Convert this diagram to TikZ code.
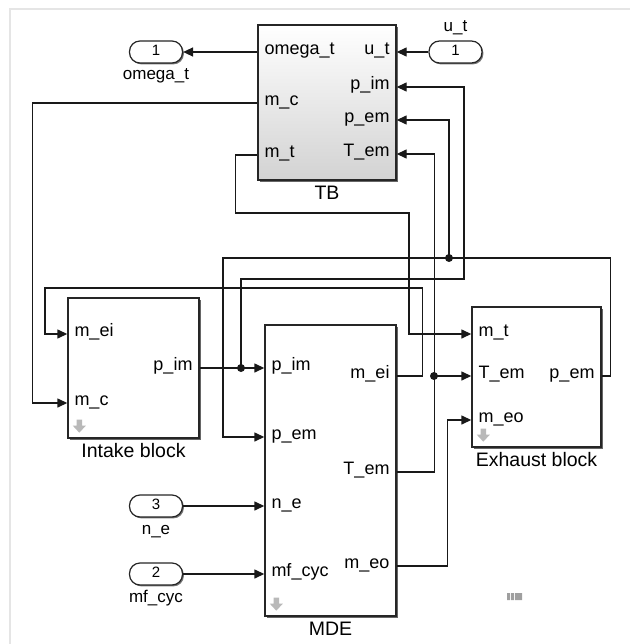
\documentclass[tikz,border=0pt]{standalone}
\usepackage{fontspec}
\setmainfont{Liberation Sans}
\usetikzlibrary{positioning,arrows.meta,shadows}

\begin{document}
\begin{tikzpicture}[x=1pt, y=-1pt, node distance=11pt,
    blk/.style={rectangle, draw=black!85, line width=1.4pt, fill=white, inner sep=0pt,
        drop shadow={shadow xshift=2pt, shadow yshift=-2pt, opacity=0.6, fill=black}},
    term/.style={rectangle, rounded corners=10.5pt, draw=black!85, line width=1.2pt, fill=white,
        minimum width=53pt, minimum height=22pt, inner sep=0pt,
        font=\fontsize{15}{17}\selectfont, text height=0.72em, text depth=0pt,
        drop shadow={shadow xshift=1.4pt, shadow yshift=-1.4pt, opacity=0.55, fill=black}},
    lport/.style={anchor=west, inner xsep=7pt, inner ysep=0pt,
        font=\fontsize{18}{20}\selectfont, text height=0.77em, text depth=0.25em},
    rport/.style={lport, anchor=east},
    bname/.style={inner sep=0pt, font=\fontsize{19.5}{22}\selectfont, text height=0.72em, text depth=0pt},
    tname/.style={inner sep=0pt, font=\fontsize{17}{19}\selectfont, text height=0.52em, text depth=0pt},
    sig/.style={line width=1.4pt, draw=black!90, -{Triangle[length=10pt, width=9pt]}},
    jdot/.style={circle, fill=black!90, inner sep=0pt, minimum size=8pt},
    dnarrow/.pic={\fill[gray!55] (-2.8,-7) -- (2.8,-7) -- (2.8,-1) -- (6.5,-1) -- (0,6) -- (-6.5,-1) -- (-2.8,-1) -- cycle;}]
    \useasboundingbox (0,0) rectangle (630,644);
    \draw[gray!20, line width=2pt] (9.5,644) -- (9.5,9.5) -- (630,9.5);

    % subsystem blocks
    \node[blk, minimum width=138pt, minimum height=155pt, top color=white, bottom color=gray!35] (TB) at (327,102.5) {};
    \node[blk, minimum width=131pt, minimum height=140pt] (IN) at (133.5,368) {};
    \node[blk, minimum width=131pt, minimum height=291pt] (MD) at (330.5,470.5) {};
    \node[blk, minimum width=129pt, minimum height=140pt] (EX) at (536.5,377) {};

    \node[bname, below=of TB] (tbname) {TB};
    \node[bname, below=of IN] (inname) {Intake block};
    \node[bname, below=of MD] (mdname) {MDE};
    \node[bname, below=of EX] (exname) {Exhaust block};

    \pic at ([shift={(12,-12)}]IN.south west) {dnarrow};
    \pic at ([shift={(12,-12)}]MD.south west) {dnarrow};
    \pic at ([shift={(12,-12)}]EX.south west) {dnarrow};

    % ports
    \node[lport] (tb-omega) at (TB.west |- 0,52) {omega\_t};
    \node[lport] (tb-mc) at (TB.west |- 0,103) {m\_c};
    \node[lport] (tb-mt) at (TB.west |- 0,155) {m\_t};
    \node[rport] (tb-ut) at (TB.east |- 0,52) {u\_t};
    \node[rport] (tb-pim) at (TB.east |- 0,87) {p\_im};
    \node[rport] (tb-pem) at (TB.east |- 0,120) {p\_em};
    \node[rport] (tb-tem) at (TB.east |- 0,154) {T\_em};

    \node[lport] (in-mei) at (IN.west |- 0,334) {m\_ei};
    \node[lport] (in-mc) at (IN.west |- 0,403) {m\_c};
    \node[rport] (in-pim) at (IN.east |- 0,368) {p\_im};

    \node[lport] (md-pim) at (MD.west |- 0,368) {p\_im};
    \node[lport] (md-pem) at (MD.west |- 0,437) {p\_em};
    \node[lport] (md-ne) at (MD.west |- 0,506) {n\_e};
    \node[lport] (md-mf) at (MD.west |- 0,574) {mf\_cyc};
    \node[rport] (md-mei) at (MD.east |- 0,376) {m\_ei};
    \node[rport] (md-tem) at (MD.east |- 0,472) {T\_em};
    \node[rport] (md-meo) at (MD.east |- 0,566) {m\_eo};

    \node[lport] (ex-mt) at (EX.west |- 0,334) {m\_t};
    \node[lport] (ex-tem) at (EX.west |- 0,376) {T\_em};
    \node[lport] (ex-meo) at (EX.west |- 0,420) {m\_eo};
    \node[rport] (ex-pem) at (EX.east |- 0,376) {p\_em};

    % in/out terminals
    \node[term] (omg) at (156,52) {1};
    \node[tname, below=11pt of omg] (omgname) {omega\_t};
    \node[term] (ut) at (455.5,52) {1};
    \node[tname, above=9pt of ut] (utname) {u\_t};
    \node[term] (ne) at (156,506) {3};
    \node[tname, below=11pt of ne] (nename) {n\_e};
    \node[term] (mf) at (156,574) {2};
    \node[tname, below=11pt of mf] (mfname) {mf\_cyc};

    % branch points
    \node[jdot] (j1) at (241,368) {};
    \node[jdot] (j2) at (449,258) {};
    \node[jdot] (j3) at (434,376) {};

    % signals
    \draw[sig] (tb-omega.west) -- (omg.east);
    \draw[sig] (ut.west) -- (tb-ut.east);
    \draw[sig] (tb-mc.west) -- ++(-225,0) |- (in-mc.west);
    \draw[sig] (tb-mt.west) -- ++(-22,0) |- (409,213) |- (ex-mt.west);
    \draw[sig] (in-pim.east) -- (md-pim.west);
    \draw[sig] (j1.center) |- (464,279) |- (tb-pim.east);
    \draw[sig] (ex-pem.east) -- ++(9,0) |- (223,258) |- (md-pem.west);
    \draw[sig] (j2.center) |- (tb-pem.east);
    \draw[sig] (md-tem.east) -- ++(38,0) |- (tb-tem.east);
    \draw[sig] (j3.center) -- (ex-tem.west);
    \draw[sig] (md-mei.east) -- ++(26,0) |- (45,288) |- (in-mei.west);
    \draw[sig] (md-meo.east) -- ++(51,0) |- (ex-meo.west);
    \draw[sig] (ne.east) -- (md-ne.west);
    \draw[sig] (mf.east) -- (md-mf.west);

    % status icon
    \fill[gray!75] (507,593) rectangle (510,600) (511,593) rectangle (514,600) (515,593) rectangle (522,600);
\end{tikzpicture}
\end{document}
